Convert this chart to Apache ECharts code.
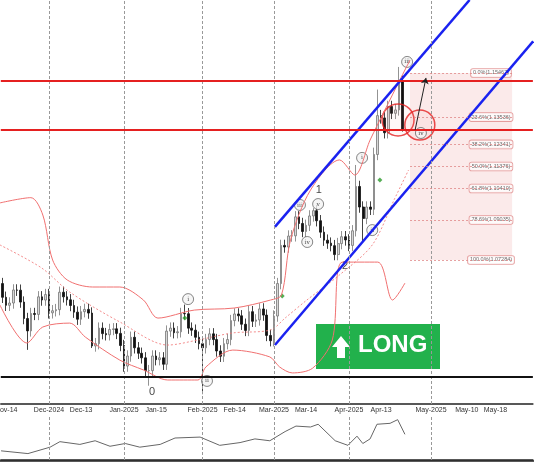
<!DOCTYPE html>
<html><head><meta charset="utf-8">
<script src="https://cdn.jsdelivr.net/npm/echarts@6/dist/echarts.min.js"></script>
<style>html,body{margin:0;padding:0;background:#fff}#c{width:534px;height:462px}</style>
</head><body><div id="c"></div>
<script>
// daily closes Nov-13-2024 .. Apr-22-2025 (weekdays, no Dec-25 / Jan-01)
const closes=[1.0565,1.0530,1.0540,1.0597,1.0596,1.0544,1.0472,1.0418,1.0494,1.0490,1.0567,1.0553,1.0577,
 1.0497,1.0506,1.0511,1.0587,1.0567,1.0554,1.0529,1.0500,1.0469,1.0502,1.0512,1.0496,1.0352,1.0362,1.0430,1.0406,1.0401,1.0424,1.0427,1.0407,1.0354,
 1.0264,1.0308,1.0390,1.0344,1.0320,1.0300,1.0244,1.0244,1.0308,1.0292,1.0300,1.0272,1.0417,1.0430,1.0410,1.0414,1.0494,1.0493,1.0430,1.0421,1.0390,1.0362,
 1.0344,1.0380,1.0405,1.0380,1.0330,1.0307,1.0362,1.0380,1.0463,1.0492,1.0484,1.0447,1.0420,1.0502,1.0460,1.0466,1.0514,1.0487,1.0398,1.0375,
 1.0483,1.0625,1.0792,1.0785,1.0833,1.0834,1.0917,1.0888,1.0853,1.0880,1.0921,1.0944,1.0900,1.0850,1.0815,1.0802,1.0791,1.0752,1.0800,1.0830,1.0816,
 1.0792,1.0856,1.1050,1.0960,1.0910,1.0960,1.0950,1.1190,1.1360,1.1350,1.1285,1.1400,1.1370,1.1385,1.1510,1.1300];
const firstOpen=1.0625;
const lowOverride={'2025-02-03':1.0141,'2025-01-13':1.0178,'2024-11-22':1.0335,'2025-04-07':1.0810,'2025-04-22':1.1290,'2024-12-18':1.0343};
const highOverride={'2025-04-21':1.1573,'2025-04-11':1.1474,'2025-04-03':1.1144,'2025-03-18':1.0955,'2025-01-27':1.0533,'2025-04-10':1.1220};
// overlay positions: x in session units (Nov-11 = 0), price on y
const upperBand=[[1.5,1.0978],[10,1.1001],[13.3,1.0925],[16,1.0728],[20,1.0641],[27,1.0610],[34.5,1.0610],[41,1.0553],[45,1.0474],[55,1.0509],[66,1.0518],[76,1.0553],[79,1.0575],[81.5,1.0816],[87,1.1034],[95,1.1166],[99.2,1.1100],[103.4,1.1253],[107.5,1.1385],[111.6,1.1516],[114.4,1.1603]];
const lowerBand=[[1.5,1.0531],[8.9,1.0365],[13.3,1.0435],[20.7,1.0452],[25,1.0391],[34.5,1.0290],[41,1.0247],[47.7,1.0203],[56,1.0203],[58.2,1.0260],[65.6,1.0334],[75.8,1.0304],[78.5,1.0260],[82,1.0234],[87.6,1.0255],[93,1.0378],[95.8,1.0719],[105.5,1.0719],[109.6,1.0553],[113,1.0627]];
const midBand=[[1.5,1.0794],[13,1.0693],[20.7,1.0588],[34.5,1.0457],[47.7,1.0356],[56,1.0378],[65.6,1.0409],[76,1.0422],[80,1.0474],[86,1.0553],[95,1.0663],[104,1.0794],[110,1.0991],[114,1.1122]];
const channelUpper=[[77.2,1.0873],[130.8,1.1866]];
const channelLower=[[77.2,1.0356],[148.3,1.1685]];
const redLevels=[1.1512,1.1297];
const supportLevel=1.0216;
const fibPct=['0.0%','23.6%','38.2%','50.0%','61.8%','78.6%','100.0%'];
const fibPrice=[1.15467,1.13536,1.12341,1.11376,1.10410,1.09035,1.07284];
const circles=[[111.1,1.1341,32],[117.1,1.1319,30]];
const waveCircled=[[53.3,1.0557,'i'],[58.5,1.0199,'ii'],[84.1,1.0969,'iii'],[86.1,1.0807,'iv'],[89.1,1.0973,'v'],[104,1.0859,'ii'],[101.2,1.1175,'i'],[113.6,1.1595,'iii'],[117.4,1.1284,'iv']];
const wavePlain=[[43.4,1.0150,'0'],[89.3,1.1034,'1'],[96.5,1.0702,'2']];
const greenMarks=[[52.4,1.0474],[79.2,1.0571],[106.1,1.1078]];
const arrow=[[115.8,1.1297],[118.8,1.1525]];
const oscillator=[[1.8,10],[9.2,7],[15.3,14],[18,20],[23.5,17],[27.7,21],[31.8,15],[36,18],[40,14],[45.6,17],[49.7,24],[56.6,25],[62,16],[67.6,19],[71.7,23],[75.8,21],[80,31],[83,37],[87,36],[89.1,39],[93.8,21],[97.3,16],[99.8,26],[101.4,18],[103.4,23],[105.3,39],[108.9,40],[111,44],[113,28]];
const tickLabels={'2024-11-14':'Nov-14','2024-12-02':'Dec-2024','2024-12-13':'Dec-13','2025-01-02':'Jan-2025','2025-01-15':'Jan-15','2025-02-03':'Feb-2025','2025-02-14':'Feb-14','2025-03-03':'Mar-2025','2025-03-14':'Mar-14','2025-04-01':'Apr-2025','2025-04-14':'Apr-13','2025-05-02':'May-2025','2025-05-16':'May-10','2025-05-28':'May-18'};
const monthStarts=['2024-12-02','2025-01-02','2025-02-03','2025-03-03','2025-04-01','2025-05-02'];

// weekday categories
const skip=['2024-12-25','2025-01-01'];
const dates=[];
for(let d=new Date(Date.UTC(2024,10,13));d<=new Date(Date.UTC(2025,5,11));d.setUTCDate(d.getUTCDate()+1)){
  const wd=d.getUTCDay(); const k=d.toISOString().slice(0,10);
  if(wd!==0&&wd!==6&&skip.indexOf(k)<0) dates.push(k);
}
const N=dates.length, W=3.571, LEFT=0.79;
const candles=closes.map((c,i)=>{
  const o=i?closes[i-1]:firstOpen, k=dates[i];
  const lo=lowOverride[k]||Math.min(o,c)-0.0025, hi=highOverride[k]||Math.max(o,c)+0.0025;
  return [o,c,lo,hi];
});
const yMin=1.0098,yMax=1.1866;
const xVMin=1.727, xVMax=(LEFT+N*W+7.3)/3.632-0.5;
const isTick=(i)=>tickLabels[dates[i]]!==undefined;

const chart=echarts.init(document.getElementById('c'));
const lineS=(data,color,w,type)=>({type:'line',xAxisIndex:1,yAxisIndex:0,data:data,symbol:'none',smooth:0.3,lineStyle:{color:color,width:w,type:type||'solid'},silent:true,clip:true});
chart.setOption({
  animation:false,
  grid:[{left:LEFT,top:0,width:N*W,height:404,outerBoundsMode:'none',containLabel:false},
        {left:LEFT,top:416,width:N*W,height:44,outerBoundsMode:'none',containLabel:false}],
  xAxis:[
    {type:'category',gridIndex:0,data:dates,boundaryGap:true,
     axisLine:{lineStyle:{color:'#222',width:1.5}},
     axisTick:{interval:(i)=>isTick(i),length:3,alignWithLabel:true,lineStyle:{color:'#444'}},
     axisLabel:{interval:(i)=>isTick(i),formatter:(v)=>tickLabels[v]||'',fontSize:7,color:'#333',margin:3,fontFamily:'Liberation Sans'},
     splitLine:{show:false}},
    {type:'value',gridIndex:0,min:xVMin,max:xVMax,show:false},
    {type:'category',gridIndex:1,data:dates,position:'top',boundaryGap:true,
     axisLine:{lineStyle:{color:'#222',width:1.5}},axisTick:{show:false},axisLabel:{show:false},splitLine:{show:false}},
    {type:'value',gridIndex:1,min:xVMin,max:xVMax,show:false}
  ],
  yAxis:[
    {type:'value',gridIndex:0,min:yMin,max:yMax,show:false},
    {type:'value',gridIndex:1,min:0,max:48,show:false}
  ],
  series:[
    {type:'line',xAxisIndex:0,yAxisIndex:0,data:[],silent:true,
     markLine:{silent:true,symbol:'none',label:{show:false},lineStyle:{color:'#999',type:[3,2],width:1},data:monthStarts.map(k=>({xAxis:k}))}},
    {type:'line',xAxisIndex:2,yAxisIndex:1,data:[],silent:true,
     markLine:{silent:true,symbol:'none',label:{show:false},lineStyle:{color:'#999',type:[3,2],width:1},data:monthStarts.map(k=>({xAxis:k}))}},
    lineS(upperBand,'#f07070',1),
    lineS(lowerBand,'#f07070',1),
    lineS(midBand,'#f07070',0.8,[2,2]),
    {type:'scatter',xAxisIndex:1,yAxisIndex:0,data:[],silent:true,
     markArea:{silent:true,itemStyle:{color:'rgba(240,170,170,0.25)'},data:[[{coord:[114.4,fibPrice[0]]},{coord:[142.5,fibPrice[6]]}]]},
     markLine:{silent:true,symbol:'none',label:{show:false},
       data:fibPrice.map(p=>[{coord:[114.4,p],lineStyle:{color:'#e08a8a',width:0.8,type:[2,2]}},{coord:[142.5,p]}])
         .concat(redLevels.map(p=>[{coord:[xVMin,p],lineStyle:{color:'#e52020',width:1.8,type:'solid'}},{coord:[xVMax,p]}]))
         .concat([[{coord:[xVMin,supportLevel],lineStyle:{color:'#111',width:2,type:'solid'}},{coord:[xVMax,supportLevel]}]])}},
    {type:'candlestick',xAxisIndex:0,yAxisIndex:0,data:candles,barWidth:2.2,
     itemStyle:{color:'#d8d8d8',color0:'#111',borderColor:'#777',borderColor0:'#111',borderWidth:0.8}},
    lineS(channelUpper,'#1a22f0',2.5),
    lineS(channelLower,'#1a22f0',2.5),
    {type:'scatter',xAxisIndex:1,yAxisIndex:0,data:circles.map(c=>[c[0],c[1]]),symbolSize:(v,p)=>circles[p.dataIndex][2],
     itemStyle:{color:'rgba(255,120,120,0.08)',borderColor:'#e52020',borderWidth:1.5},silent:true},
    {type:'scatter',xAxisIndex:1,yAxisIndex:0,data:greenMarks,symbol:'diamond',symbolSize:5,itemStyle:{color:'#2a9a2a'},silent:true},
    {type:'scatter',xAxisIndex:1,yAxisIndex:0,data:waveCircled,symbol:'circle',symbolSize:11,
     itemStyle:{color:'#f4f4f4',borderColor:'#444',borderWidth:0.8},
     label:{show:true,position:'inside',formatter:(p)=>p.data[2],fontSize:6,color:'#222',fontFamily:'DejaVu Serif'},silent:true},
    {type:'scatter',xAxisIndex:1,yAxisIndex:0,data:wavePlain,symbolSize:0,
     label:{show:true,position:'inside',formatter:(p)=>p.data[2],fontSize:11,color:'#111',fontFamily:'Liberation Sans'},silent:true},
    {type:'scatter',xAxisIndex:1,yAxisIndex:0,data:fibPrice.map((p,i)=>[136.7,p,fibPct[i]+'('+p.toFixed(5)+')']),symbolSize:0,
     label:{show:true,position:'inside',formatter:(p)=>p.data[2],fontSize:5.5,color:'#444',backgroundColor:'#fff',
       borderColor:'#e08a8a',borderWidth:0.8,borderRadius:2,padding:[1,2]},silent:true},
    {type:'scatter',xAxisIndex:1,yAxisIndex:0,data:[],silent:true,
     markLine:{silent:true,symbol:['none','arrow'],symbolSize:6,label:{show:false},
       lineStyle:{color:'#222',width:1,type:'solid'},data:[[{coord:arrow[0]},{coord:arrow[1]}]]}},
    {type:'line',xAxisIndex:3,yAxisIndex:1,data:oscillator,symbol:'none',lineStyle:{color:'#666',width:1},silent:true}
  ],
  graphic:[
    {type:'group',left:316,top:324,children:[
      {type:'rect',shape:{x:0,y:0,width:124,height:45},style:{fill:'#22b14c'}},
      {type:'polygon',shape:{points:[[16,23],[25,12],[34,23],[29,23],[29,34],[21,34],[21,23]]},style:{fill:'#fff'}},
      {type:'text',left:42,top:9,style:{text:'LONG',fill:'#fff',font:'bold 24px Liberation Sans'}}
    ]},
    {type:'line',shape:{x1:0,y1:461,x2:534,y2:461},style:{stroke:'#222',lineWidth:1.5}}
  ]
});
</script></body></html>
